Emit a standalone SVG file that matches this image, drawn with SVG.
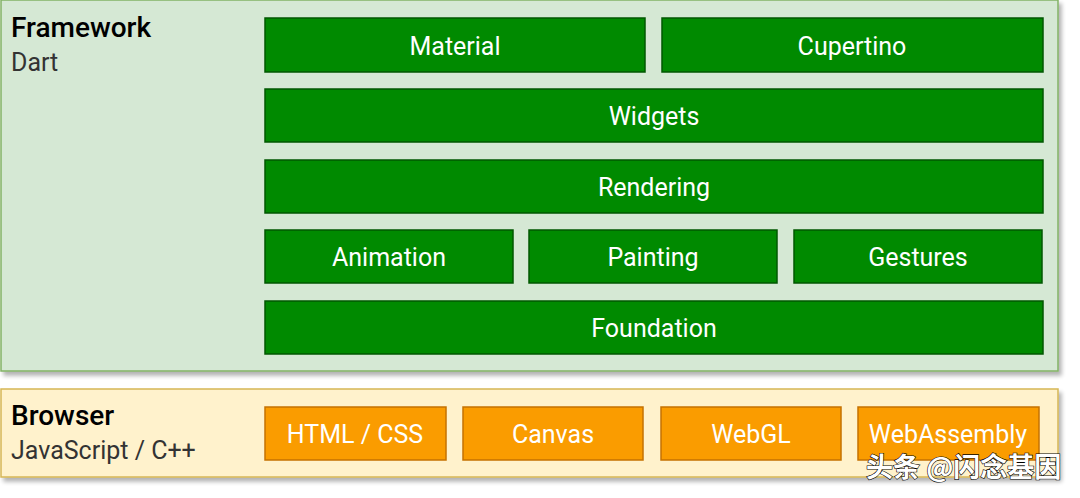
<svg xmlns="http://www.w3.org/2000/svg" width="1080" height="498" viewBox="0 0 1080 498">
<style>
.g rect{fill:#008a00;stroke:#005700;stroke-width:1.5}
.o rect{fill:#fa9c00;stroke:#c57200;stroke-width:1.5}
.lbl{font-family:Roboto,"Liberation Sans",sans-serif;font-size:25px;fill:#fff;text-anchor:middle}
.h{font-family:Roboto,"Liberation Sans",sans-serif;font-size:28px;font-weight:500;fill:#000}
.s{font-family:Roboto,"Liberation Sans",sans-serif;font-size:25px;fill:#333}
</style>
<defs>
<filter id="sh" x="-5%" y="-5%" width="115%" height="120%">
<feGaussianBlur in="SourceAlpha" stdDeviation="2"/>
<feOffset dx="3" dy="4" result="b"/>
<feComponentTransfer><feFuncA type="linear" slope="0.3"/></feComponentTransfer>
<feMerge><feMergeNode/><feMergeNode in="SourceGraphic"/></feMerge>
</filter>
</defs>
<rect width="1080" height="498" fill="#fff"/>
<g id="framework">
<rect x="1" y="0" width="1057" height="371" fill="#d5e8d4" stroke="#82b366" stroke-width="1.5" filter="url(#sh)"/>
<text class="h" x="11" y="37">Framework</text>
<text class="s" x="11" y="71">Dart</text>
</g>
<g id="browser">
<rect x="1" y="389" width="1057" height="88" fill="#fff2cc" stroke="#d6b656" stroke-width="1.5" filter="url(#sh)"/>
<text class="h" x="11" y="425">Browser</text>
<text class="s" x="11" y="459">JavaScript / C++</text>
</g>
<g id="material" class="g"><rect x="265" y="18" width="380" height="54"/><text class="lbl" x="455" y="55">Material</text></g>
<g id="cupertino" class="g"><rect x="662" y="18" width="381" height="54"/><text class="lbl" x="852" y="55">Cupertino</text></g>
<g id="widgets" class="g"><rect x="265" y="89" width="778" height="53"/><text class="lbl" x="654" y="125">Widgets</text></g>
<g id="rendering" class="g"><rect x="265" y="160" width="778" height="53"/><text class="lbl" x="654" y="196">Rendering</text></g>
<g id="animation" class="g"><rect x="265" y="230" width="248" height="53"/><text class="lbl" x="389" y="266">Animation</text></g>
<g id="painting" class="g"><rect x="529" y="230" width="248" height="53"/><text class="lbl" x="653" y="266">Painting</text></g>
<g id="gestures" class="g"><rect x="794" y="230" width="248" height="53"/><text class="lbl" x="918" y="266">Gestures</text></g>
<g id="foundation" class="g"><rect x="265" y="301" width="778" height="53"/><text class="lbl" x="654" y="337">Foundation</text></g>
<g id="htmlcss" class="o"><rect x="265" y="407" width="181" height="53"/><text class="lbl" x="355" y="443">HTML / CSS</text></g>
<g id="canvas" class="o"><rect x="463" y="407" width="180" height="53"/><text class="lbl" x="553" y="443">Canvas</text></g>
<g id="webgl" class="o"><rect x="661" y="407" width="180" height="53"/><text class="lbl" x="751" y="443">WebGL</text></g>
<g id="webassembly" class="o"><rect x="858" y="407" width="181" height="53"/><text class="lbl" x="948" y="443">WebAssembly</text></g>
<g id="connectors"></g>
<text x="866" y="477" font-family="'Noto Sans CJK SC',sans-serif" font-size="27" font-weight="bold" fill="#fff" stroke="#000" stroke-width="1.2" paint-order="stroke">头条 @闪念基因</text>
</svg>
